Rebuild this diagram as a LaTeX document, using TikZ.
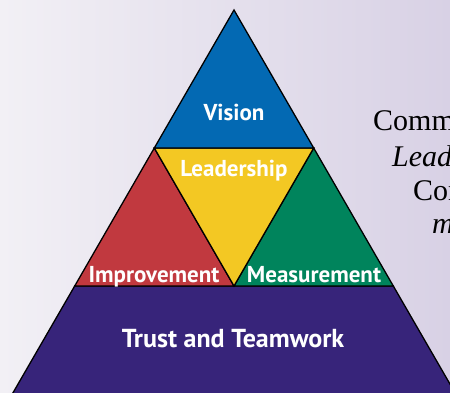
\documentclass[tikz,border=0pt]{standalone}
\usepackage{fontspec}
\setmainfont{Liberation Serif}
\newfontfamily\tierfont{PT Sans}
\definecolor{bgleft}{RGB}{242,240,245}
\definecolor{bgright}{RGB}{216,209,229}
\definecolor{vision}{RGB}{3,105,179}
\definecolor{leader}{RGB}{243,200,35}
\definecolor{improve}{RGB}{193,57,63}
\definecolor{measure}{RGB}{0,132,92}
\definecolor{trust}{RGB}{55,36,122}
\begin{document}
\begin{tikzpicture}[x=1pt,y=-1pt,
  tier/.style={draw=black, line width=1.3pt, line join=miter},
  tiertext/.style={text=white, inner sep=0pt, anchor=base,
    font=\tierfont\bfseries\fontsize{23}{23}\selectfont},
  sidetext/.style={inner sep=0pt, anchor=base west,
    font=\fontsize{30}{30}\selectfont}]
\useasboundingbox (0,0) rectangle (450,392);
\clip (0,0) rectangle (450,392);
\shade[left color=bgleft, right color=bgright] (0,0) rectangle (450,392);
% corners of the pyramid
\coordinate (apex) at (234,10);
\coordinate (vl) at (154.3,148);
\coordinate (vr) at (313.7,148);
\coordinate (mid) at (234,286);
\coordinate (bl) at (74.7,286);
\coordinate (br) at (393.3,286);
\coordinate (fl) at (8.8,400);
\coordinate (fr) at (459.2,400);
% tiers
\filldraw[tier, fill=trust] (bl) -- (br) -- (fr) -- (fl) -- cycle;
\filldraw[tier, fill=improve] (vl) -- (mid) -- (bl) -- cycle;
\filldraw[tier, fill=measure] (vr) -- (br) -- (mid) -- cycle;
\filldraw[tier, fill=leader] (vl) -- (vr) -- (mid) -- cycle;
\filldraw[tier, fill=vision] (apex) -- (vl) -- (vr) -- cycle;
% labels
\node[tiertext] (vis) at (234,120) {Vision};
\node[tiertext] (lead) at (234,176) {Leadership};
\node[tiertext] (imp) at (154,282) {Improvement};
\node[tiertext] (meas) at (314,282) {Measurement};
\node[tiertext, font=\tierfont\bfseries\fontsize{26}{26}\selectfont] (tt) at (233,347) {Trust and Teamwork};
% cut-off text on the right
\node[sidetext] (s1) at (373,130) {Comm};
\node[sidetext, font=\itshape\fontsize{30}{30}\selectfont] (s2) at (392,166) {Lead};
\node[sidetext] (s3) at (413,200) {Con};
\node[sidetext, font=\itshape\fontsize{30}{30}\selectfont] (s4) at (432,233) {m};
\end{tikzpicture}
\end{document}
